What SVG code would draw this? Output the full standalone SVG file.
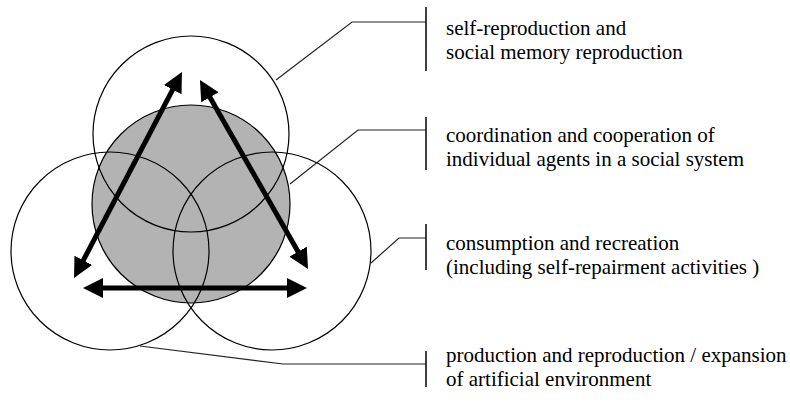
<svg xmlns="http://www.w3.org/2000/svg" width="790" height="407" viewBox="0 0 790 407">
<style>
.c{fill:none;stroke:#000;stroke-width:1.2}
.g{fill:#b3b3b3;stroke:#000;stroke-width:1.2}
.ld{fill:none;stroke:#222;stroke-width:1.2}
.bar{stroke:#000;stroke-width:1.5}
.ar{stroke:#000;stroke-width:5;fill:none}
text{font-family:'Liberation Serif','Times New Roman',serif;font-size:21px;fill:#000}
</style>
<defs>
<marker id="ah" markerUnits="userSpaceOnUse" markerWidth="22" markerHeight="22" refX="2" refY="10" orient="auto-start-reverse" viewBox="0 0 22 22">
<path d="M0,0 L20,10 L0,20 z" fill="#000"/>
</marker>
</defs>
<rect width="790" height="407" fill="#fff"/>
<g id="core"><circle class="g" cx="191" cy="204" r="99"/></g>
<g id="top-circle"><circle class="c" cx="191" cy="134" r="98"/></g>
<g id="left-circle"><circle class="c" cx="110" cy="251" r="99"/></g>
<g id="right-circle"><circle class="c" cx="272" cy="251" r="99"/></g>
<g id="connectors">
<line class="ar" x1="82.4" y1="262.1" x2="173.6" y2="87.9" marker-start="url(#ah)" marker-end="url(#ah)"/>
<line class="ar" x1="208.9" y1="95.6" x2="299.1" y2="253.4" marker-start="url(#ah)" marker-end="url(#ah)"/>
<line class="ar" x1="101" y1="288" x2="289" y2="288" marker-start="url(#ah)" marker-end="url(#ah)"/>
<polyline class="ld" points="276,80 352,22 426,22"/>
<polyline class="ld" points="290,184 358,130 426,130"/>
<polyline class="ld" points="371,263 399,238 426,238"/>
<polyline class="ld" points="140,346 283,364 426,364"/>
</g>
<g id="label-1">
<line class="bar" x1="426" y1="7" x2="426" y2="71"/>
<text x="446" y="35">self-reproduction and</text>
<text x="446" y="59">social memory reproduction</text>
</g>
<g id="label-2">
<line class="bar" x1="426" y1="117" x2="426" y2="170"/>
<text x="446" y="142">coordination and cooperation of</text>
<text x="446" y="166">individual agents in a social system</text>
</g>
<g id="label-3">
<line class="bar" x1="426" y1="224" x2="426" y2="270"/>
<text x="446" y="250">consumption and recreation</text>
<text x="446" y="274">(including self-repairment activities )</text>
</g>
<g id="label-4">
<line class="bar" x1="426" y1="351" x2="426" y2="387"/>
<text x="446" y="362">production and reproduction / expansion</text>
<text x="446" y="386">of artificial environment</text>
</g>
</svg>
